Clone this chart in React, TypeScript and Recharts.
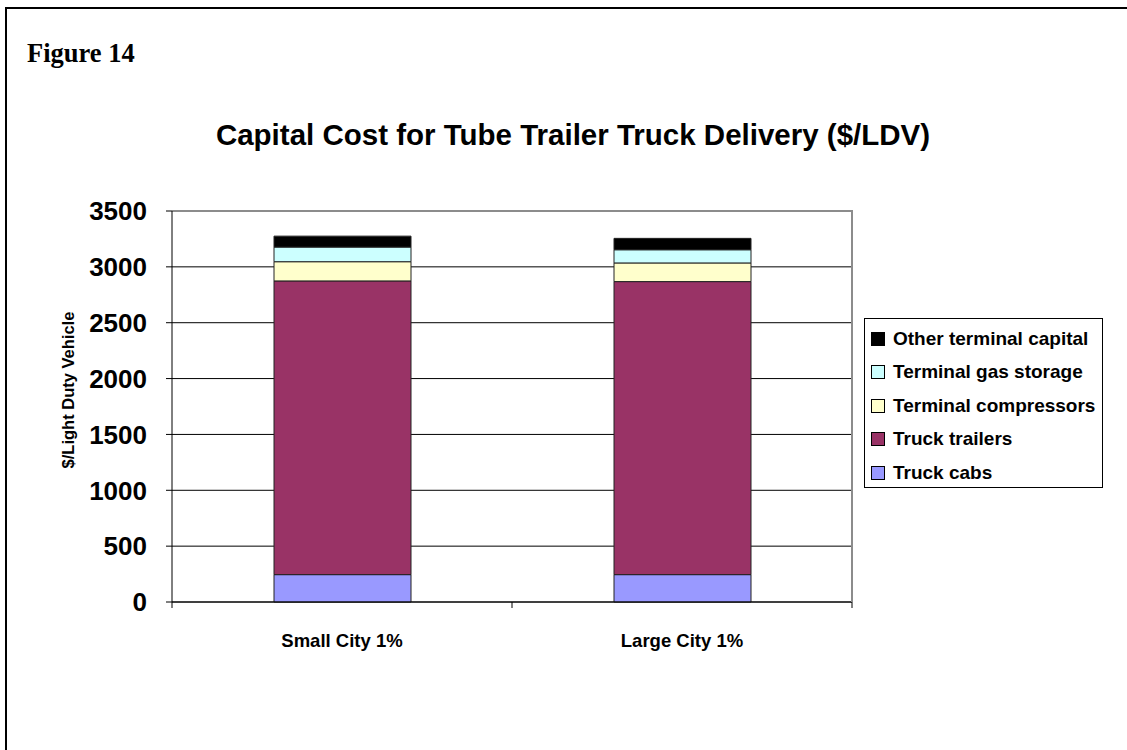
import React from 'react';
import { BarChart, Bar, XAxis, YAxis, CartesianGrid, ReferenceLine } from 'recharts';

const categories = ['Small City 1%', 'Large City 1%'];
const truckCabs = [245, 245];
const truckTrailers = [2629, 2623];
const terminalCompressors = [172, 167];
const terminalGasStorage = [131, 118];
const otherTerminalCapital = [98, 102];
const yTicks = [0, 500, 1000, 1500, 2000, 2500, 3000, 3500];

const SERIES = [
    { key: 'cabs', name: 'Truck cabs', color: '#9999FF', values: truckCabs },
    { key: 'trailers', name: 'Truck trailers', color: '#993366', values: truckTrailers },
    { key: 'compressors', name: 'Terminal compressors', color: '#FFFFCC', values: terminalCompressors },
    { key: 'storage', name: 'Terminal gas storage', color: '#CCFFFF', values: terminalGasStorage },
    { key: 'other', name: 'Other terminal capital', color: '#000000', values: otherTerminalCapital },
];

const data = categories.map((name, i) => {
    const row: Record<string, string | number> = { name };
    SERIES.forEach((s) => {
        row[s.key] = s.values[i];
    });
    return row;
});

const FONT = '"Liberation Sans", Arial, sans-serif';
const W = 1127;
const H = 750;
const MARGIN = { top: 211, right: 275, left: 92, bottom: 108 };
const Y_AXIS_W = 80;
const X_AXIS_H = 40;
const PLOT_LEFT = MARGIN.left + Y_AXIS_W;
const PLOT_W = W - PLOT_LEFT - MARGIN.right;
const PLOT_H = H - MARGIN.top - MARGIN.bottom - X_AXIS_H;
const BAND = PLOT_W / categories.length;

const CategoryTick = (props: any) => {
    const { x, y, payload, index } = props;
    const half = BAND / 2;
    return (
        <g>
            <line x1={x - half} y1={y} x2={x - half} y2={y + 6} stroke="#000" />
            {index === categories.length - 1 && (
                <line x1={x + half} y1={y} x2={x + half} y2={y + 6} stroke="#000" />
            )}
            <text x={x} y={y + 45} textAnchor="middle" fontFamily={FONT} fontWeight="bold" fontSize={18.5} fill="#000">
                {payload.value}
            </text>
        </g>
    );
};

// legend drawn as plain html so it doesn't eat into the plot area
const LegendBox = () => (
    <div
        style={{
            position: 'absolute',
            left: 864,
            top: 318,
            border: '1px solid #000',
            width: 237,
            height: 165,
            paddingTop: 3,
            fontFamily: FONT,
            fontWeight: 'bold',
            fontSize: 19,
            background: '#fff',
        }}
    >
        {[...SERIES].reverse().map((s) => (
            <div key={s.key} style={{ display: 'flex', alignItems: 'center', height: 33.5 }}>
                <span
                    style={{
                        display: 'inline-block',
                        width: 12,
                        height: 12,
                        marginLeft: 6,
                        marginRight: 8,
                        background: s.color,
                        border: '1px solid #000',
                    }}
                />
                <span>{s.name}</span>
            </div>
        ))}
    </div>
);

const App: React.FC = () => {
    return (
        <div style={{ position: 'absolute', left: 0, top: 0, width: W, height: H, background: '#fff', overflow: 'hidden' }}>
            <div
                style={{
                    position: 'absolute',
                    left: 5,
                    top: 7,
                    width: W + 20,
                    height: H + 20,
                    borderTop: '2px solid #000',
                    borderLeft: '2px solid #000',
                }}
            />
            <div
                style={{
                    position: 'absolute',
                    left: 27,
                    top: 38,
                    fontFamily: '"Liberation Serif", "Times New Roman", serif',
                    fontWeight: 'bold',
                    fontSize: 26.5,
                }}
            >
                Figure 14
            </div>
            <div
                style={{
                    position: 'absolute',
                    left: 173,
                    top: 118,
                    width: 800,
                    textAlign: 'center',
                    fontFamily: FONT,
                    fontWeight: 'bold',
                    fontSize: 29.5,
                }}
            >
                Capital Cost for Tube Trailer Truck Delivery ($/LDV)
            </div>
            <div
                style={{
                    position: 'absolute',
                    left: 68 - 100,
                    top: 390 - 10,
                    width: 200,
                    height: 20,
                    lineHeight: '20px',
                    textAlign: 'center',
                    transform: 'rotate(-90deg)',
                    fontFamily: FONT,
                    fontWeight: 'bold',
                    fontSize: 16.5,
                }}
            >
                $/Light Duty Vehicle
            </div>
            <BarChart width={W} height={H} data={data} margin={MARGIN} barSize={137}>
                <CartesianGrid vertical={false} stroke="#000" horizontalValues={yTicks.filter((v) => v < 3500)} />
                <ReferenceLine y={3500} stroke="#8c8c8c" strokeWidth={2} />
                <XAxis
                    dataKey="name"
                    height={X_AXIS_H}
                    axisLine={{ stroke: '#000' }}
                    tickLine={false}
                    tickSize={0}
                    tickMargin={0}
                    tick={<CategoryTick />}
                    interval={0}
                />
                <YAxis
                    width={Y_AXIS_W}
                    domain={[0, 3500]}
                    ticks={yTicks}
                    interval={0}
                    axisLine={{ stroke: '#000' }}
                    tickLine={{ stroke: '#000' }}
                    tickSize={6}
                    tickMargin={19}
                    tick={{ fontFamily: FONT, fontWeight: 'bold', fontSize: 26, fill: '#000' }}
                />
                {SERIES.map((s) => (
                    <Bar
                        key={s.key}
                        dataKey={s.key}
                        name={s.name}
                        stackId="a"
                        fill={s.color}
                        stroke="#222"
                        strokeWidth={1}
                        isAnimationActive={false}
                    />
                ))}
            </BarChart>
            {/* right edge of the plot frame */}
            <div
                style={{
                    position: 'absolute',
                    left: PLOT_LEFT + PLOT_W - 1,
                    top: MARGIN.top - 1,
                    width: 0,
                    height: PLOT_H + 1,
                    borderRight: '2px solid #8c8c8c',
                    pointerEvents: 'none',
                }}
            />
            <LegendBox />
        </div>
    );
};

export default App;
